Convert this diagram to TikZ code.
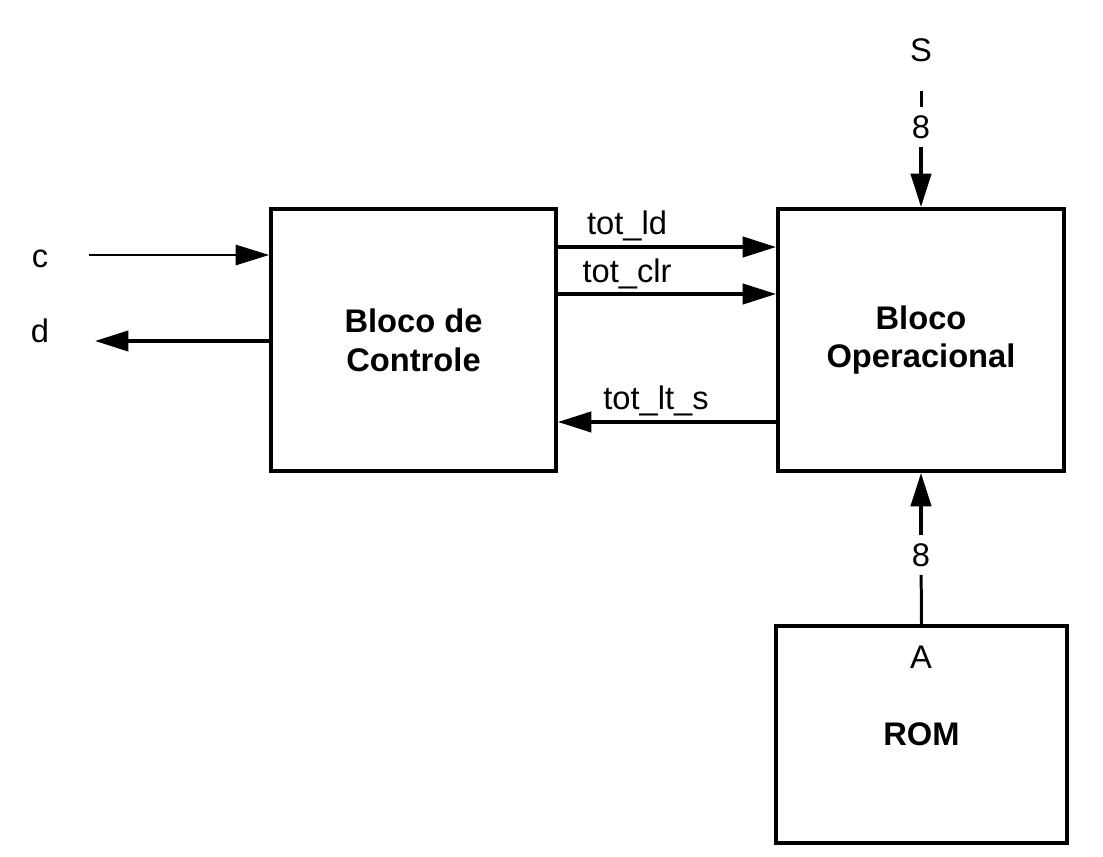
\documentclass[tikz,border=0pt]{standalone}
\usepackage{fontspec}
\setmainfont{Liberation Sans}
\usetikzlibrary{arrows.meta}

\begin{document}
\begin{tikzpicture}[
  x=0.02cm, y=-0.02cm,
  every node/.style={font=\fontsize{18.6}{22}\selectfont},
  block/.style={draw, line width=2.2pt, align=center, font=\fontsize{18.6}{22}\selectfont\bfseries},
  sig/.style={line width=2pt, -{Triangle[length=19pt,width=11.5pt]}},
  bus/.style={line width=1.7pt},
  buswidth/.style={inner sep=4.5pt},
]
\useasboundingbox (0,0) rectangle (1103,857);

\node[block, minimum width=5.7cm, minimum height=5.24cm] (ctrl) at (413.5,340) {Bloco de\\Controle};
\node[block, minimum width=5.72cm, minimum height=5.24cm] (oper) at (921,340) {Bloco\\Operacional};
\node[block, minimum width=5.82cm, minimum height=4.34cm] (rom) at (921.5,734.5) {ROM};

% external signals
\node[anchor=base] (c) at (40,268) {c};
\node[anchor=base] (d) at (40,343) {d};
\coordinate (cin) at (89,255);
\coordinate (dout) at (95,341);
\draw[sig, line width=1.2pt] (cin) -- (cin -| ctrl.west);
\draw[sig] (dout -| ctrl.west) -- (dout);

% control <-> datapath
\draw[sig] ([yshift=1.86cm]ctrl.east) -- ([yshift=1.86cm]oper.west);
\draw[sig] ([yshift=0.92cm]ctrl.east) -- ([yshift=0.92cm]oper.west);
\draw[sig] ([yshift=-1.64cm]oper.west) -- ([yshift=-1.64cm]ctrl.east);
\node[anchor=base] (ld) at (627,235) {tot\_ld};
\node[anchor=base] (clr) at (627,283) {tot\_clr};
\node[anchor=base] (lts) at (656,410) {tot\_lt\_s};

% input S
\node (S) at (921,50) {S};
\coordinate (stop) at (921,91);
\node[buswidth] (s8) at (921,127) {8};
\draw[bus] (stop) -- (s8);
\draw[sig] (s8) -- (oper.north);

% ROM output A
\node (A) at (921,657) {A};
\node[buswidth] (a8) at (921,555) {8};
\draw[bus] (rom.north) -- (a8);
\draw[sig] (a8) -- (oper.south);
\end{tikzpicture}
\end{document}
